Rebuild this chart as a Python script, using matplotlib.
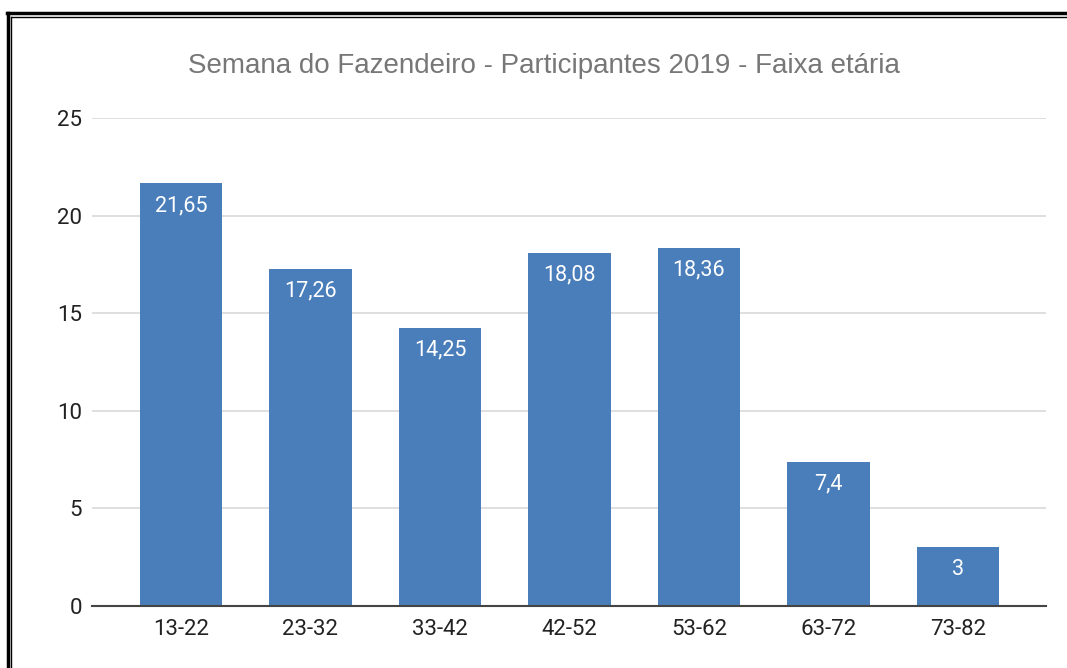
import numpy as np
import matplotlib.pyplot as plt
from matplotlib.lines import Line2D

# Datos del gráfico
faixas = ['13-22', '23-32', '33-42', '42-52', '53-62', '63-72', '73-82']
valores = [21.65, 17.26, 14.25, 18.08, 18.36, 7.4, 3]
rotulos = ['21,65', '17,26', '14,25', '18,08', '18,36', '7,4', '3']
marcas_y = [0, 5, 10, 15, 20, 25]

titulo = 'Semana do Fazendeiro - Participantes 2019 - Faixa etária'

fig = plt.figure(figsize=(10.67, 6.68), dpi=100)
ax = fig.add_axes([0.0862, 0.0928, 0.8941, 0.7306])

x = np.arange(len(faixas))
barras = ax.bar(x, valores, width=0.635, color='#4a7ebb', zorder=3)

# Rótulos de valor dentro das barras
for barra, texto in zip(barras, rotulos):
    ax.annotate(texto, (barra.get_x() + barra.get_width() / 2, barra.get_height()),
                xytext=(0, -16), textcoords='offset points', ha='center', va='center',
                color='white', fontsize=15.5, family='Roboto', zorder=4)

ax.set_xlim(-0.687, 6.68)
ax.set_ylim(0, 25)
ax.set_yticks(marcas_y)
ax.set_yticklabels([str(v) for v in marcas_y])
ax.set_xticks(x)
ax.set_xticklabels(faixas)

ax.grid(axis='y', color='#d9d9d9', linewidth=1.2, zorder=0)
for lado in ['top', 'right', 'left']:
    ax.spines[lado].set_visible(False)
ax.spines['bottom'].set_color('#444444')
ax.spines['bottom'].set_linewidth(1.5)
ax.spines['bottom'].set_zorder(5)
ax.tick_params(axis='both', length=0, labelsize=16, labelcolor='#222222')
ax.tick_params(axis='y', pad=7)
ax.tick_params(axis='x', pad=9)
for lbl in ax.get_xticklabels() + ax.get_yticklabels():
    lbl.set_family('Roboto')

fig.text(0.51, 0.901, titulo, ha='center', va='center', fontsize=20,
         color='#777777', family='Liberation Sans')

# Moldura dupla (topo e esquerda)
fig.add_artist(Line2D([0.0066, 1], [0.981, 0.981], color='black', linewidth=2.5))
fig.add_artist(Line2D([0.0072, 0.0072], [0, 0.981], color='black', linewidth=2.5))
fig.add_artist(Line2D([0.0100, 1], [0.975, 0.975], color='black', linewidth=1))
fig.add_artist(Line2D([0.0100, 0.0100], [0, 0.975], color='black', linewidth=1))

fig.savefig('out.png', dpi=100)
